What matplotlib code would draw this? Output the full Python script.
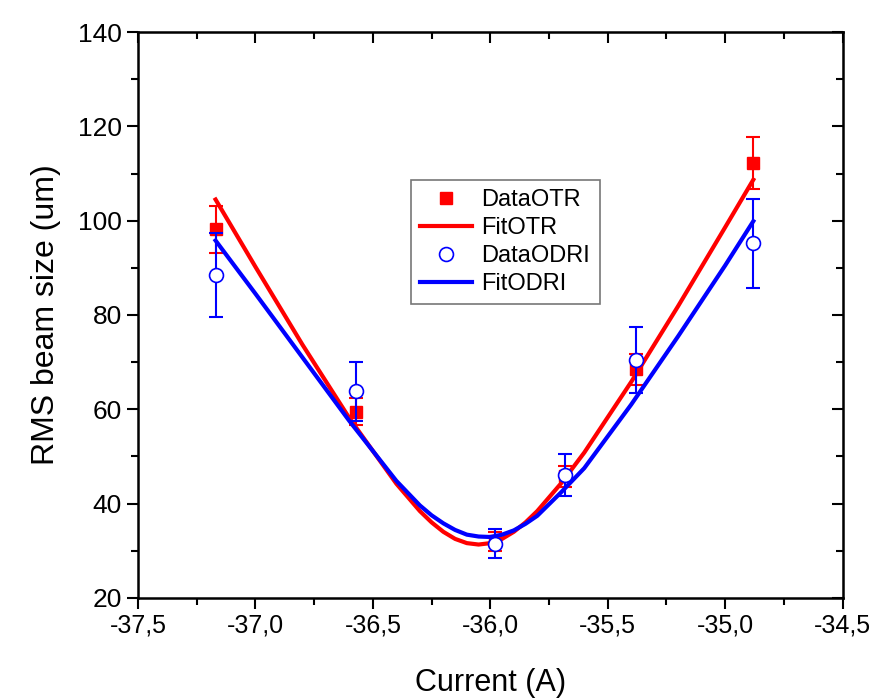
import matplotlib
matplotlib.use('Agg')
import matplotlib.pyplot as plt
from matplotlib.ticker import MultipleLocator, FuncFormatter

plt.rcParams['font.family'] = ['Liberation Sans', 'DejaVu Sans']
plt.rcParams['axes.unicode_minus'] = False

# measured points
current = [-37.17, -36.57, -35.98, -35.68, -35.38, -34.88]
otr = [98.2, 59.5, 32.0, 45.8, 68.5, 112.2]
otr_err = [5.0, 2.8, 2.0, 2.2, 3.3, 5.5]
odri = [88.5, 63.8, 31.5, 46.1, 70.5, 95.2]
odri_err = [9.0, 6.3, 3.0, 4.4, 7.0, 9.5]

# fit curves
fit_x = [-37.17, -37.0, -36.8, -36.6, -36.4, -36.3, -36.25, -36.2, -36.15, -36.1,
         -36.05, -36.0, -35.95, -35.9, -35.85, -35.8, -35.7, -35.6, -35.4, -35.2,
         -35.0, -34.88]
fit_otr = [104.5, 90.2, 73.7, 58.1, 44.2, 38.4, 36.0, 34.0, 32.5, 31.6,
           31.3, 31.6, 32.5, 34.0, 36.0, 38.4, 44.2, 50.8, 65.8, 81.9,
           98.6, 108.7]
fit_odri = [95.8, 84.5, 71.0, 57.5, 44.8, 39.6, 37.5, 35.8, 34.4, 33.4,
            33.0, 32.9, 33.4, 34.3, 35.7, 37.4, 42.3, 47.5, 61.0, 75.5,
            90.5, 99.9]

fig = plt.figure(figsize=(8.74, 7.0), dpi=100)
ax = fig.add_axes([0.158, 0.146, 0.806, 0.808])

ax.errorbar(current, otr, yerr=otr_err, fmt='none', ecolor='red',
            elinewidth=1.5, capsize=5, capthick=1.5, zorder=2)
h1, = ax.plot(current, otr, 's', color='red', markersize=8, zorder=3, label='DataOTR')
h2, = ax.plot(fit_x, fit_otr, '-', color='red', linewidth=3, zorder=4, label='FitOTR')
ax.errorbar(current, odri, yerr=odri_err, fmt='none', ecolor='blue',
            elinewidth=1.5, capsize=5, capthick=1.5, zorder=5)
h4, = ax.plot(fit_x, fit_odri, '-', color='blue', linewidth=3, zorder=6, label='FitODRI')
h3, = ax.plot(current, odri, 'o', markerfacecolor='white', markeredgecolor='blue',
              markeredgewidth=1.2, markersize=10, zorder=7, label='DataODRI')

ax.set_xlim(-37.5, -34.5)
ax.set_ylim(20, 140)
ax.xaxis.set_major_locator(MultipleLocator(0.5))
ax.xaxis.set_minor_locator(MultipleLocator(0.25))
ax.yaxis.set_major_locator(MultipleLocator(20))
ax.yaxis.set_minor_locator(MultipleLocator(10))
ax.xaxis.set_major_formatter(FuncFormatter(lambda v, p: ('%.1f' % v).replace('.', ',')))

ax.tick_params(which='both', direction='out', top=False, right=False,
               width=1.5, labelsize=18)
ax.tick_params(axis='y', labelsize=19)
ax.tick_params(which='major', length=8)
ax.tick_params(which='minor', length=5)
for s in ax.spines.values():
    s.set_linewidth(1.8)

# inward ticks on top and right like the original frame
axt = ax.secondary_xaxis('top')
axt.xaxis.set_major_locator(MultipleLocator(0.5))
axt.xaxis.set_minor_locator(MultipleLocator(0.25))
axt.tick_params(which='both', direction='in', labeltop=False, width=1.5)
axt.tick_params(which='major', length=8)
axt.tick_params(which='minor', length=5)
axr = ax.secondary_yaxis('right')
axr.yaxis.set_major_locator(MultipleLocator(20))
axr.yaxis.set_minor_locator(MultipleLocator(10))
axr.tick_params(which='both', direction='in', labelright=False, width=1.5)
axr.tick_params(which='major', length=8)
axr.tick_params(which='minor', length=5)

ax.set_xlabel('Current (A)', fontsize=22, labelpad=22)
ax.set_ylabel('RMS beam size (um)', fontsize=23, labelpad=12)

leg = ax.legend(handles=[h1, h2, h3, h4], loc='upper left', bbox_to_anchor=(0.37, 0.76),
                fontsize=17, frameon=True, fancybox=False, borderpad=0.4,
                handlelength=2.2, handletextpad=0.4, labelspacing=0.25)
leg.get_frame().set_edgecolor('#555555')
leg.get_frame().set_linewidth(1.2)

fig.savefig('out.png', dpi=100)
